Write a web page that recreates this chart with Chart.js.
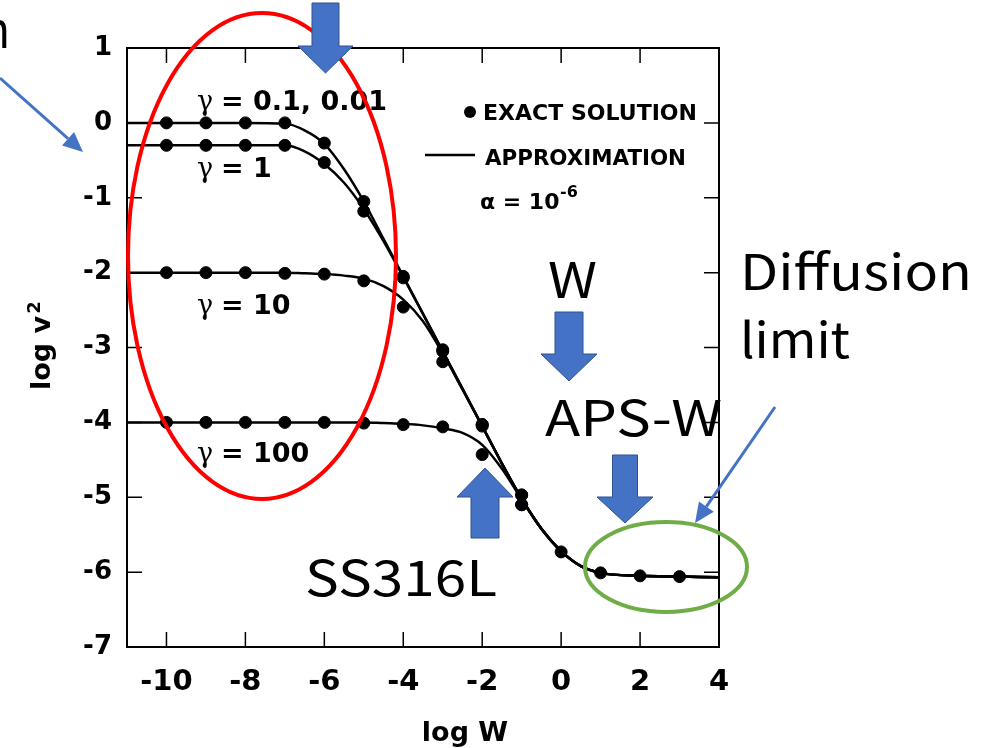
<!DOCTYPE html>
<html>
<head>
<meta charset="utf-8">
<script src="https://cdn.jsdelivr.net/npm/chart.js"></script>
<style>
  html, body { margin: 0; padding: 0; background: #fff; }
  #wrap { width: 990px; height: 748px; position: relative; }
</style>
</head>
<body>
<div id="wrap"><canvas id="chart"></canvas></div>
<script>
// exact solution dots (log W, log v2)
const exactX = [-10, -9, -8, -7, -6, -5, -4, -3, -2, -1, 0, 1, 2, 3];
const exactG01 = [0, 0, 0, 0, -0.27, -1.05, -2.05, -3.03, -4.03, -4.97, -5.73, -6.01, -6.05, -6.06];
const exactG1 = [-0.3, -0.3, -0.3, -0.3, -0.53, -1.18, -2.07, -3.05, -4.03, -4.97];
const exactG10 = [-2, -2, -2, -2.01, -2.02, -2.11, -2.46, -3.19, -4.05, -5.1];
const exactG100 = [-4, -4, -4, -4, -4, -4.01, -4.03, -4.06, -4.43, -5.1];

// approximation curves
const lineX = [-11, -10, -9, -8, -7, -6.5, -6, -5.5, -5, -4.5, -4, -3.5, -3, -2.5, -2, -1.5, -1, -0.5, 0, 0.5, 1, 2, 3, 4];
const approxG01 = [0, 0, 0, 0, -0.01, -0.1, -0.28, -0.62, -1.05, -1.55, -2.05, -2.55, -3.05, -3.55, -4.05, -4.55, -5.02, -5.42, -5.72, -5.92, -6.01, -6.05, -6.06, -6.07];
const approxG1 = [-0.3, -0.3, -0.3, -0.3, -0.3, -0.38, -0.55, -0.8, -1.15, -1.58, -2.06, -2.55, -3.05, -3.55, -4.05, -4.55, -5.02, -5.42, -5.72, -5.92, -6.01, -6.05, -6.06, -6.07];
const approxG10 = [-2, -2, -2, -2, -2, -2.01, -2.02, -2.04, -2.08, -2.18, -2.36, -2.65, -3.08, -3.56, -4.05, -4.55, -5.02, -5.42, -5.72, -5.92, -6.01, -6.05, -6.06, -6.07];
const approxG100 = [-4, -4, -4, -4, -4, -4, -4, -4, -4, -4.01, -4.02, -4.04, -4.08, -4.14, -4.3, -4.62, -5.03, -5.42, -5.72, -5.92, -6.01, -6.05, -6.06, -6.07];

const xTicks = [-10, -8, -6, -4, -2, 0, 2, 4];
const yTicks = [-7, -6, -5, -4, -3, -2, -1, 0, 1];

function pts(xs, ys) {
  return ys.map((v, i) => ({ x: xs[i], y: v }));
}

function lineSet(ys) {
  return {
    data: pts(lineX, ys),
    showLine: true,
    borderColor: '#000',
    borderWidth: 2.5,
    pointRadius: 0,
    cubicInterpolationMode: 'monotone',
  };
}

function dotSet(ys) {
  return {
    data: pts(exactX, ys),
    showLine: false,
    pointRadius: 6,
    pointBackgroundColor: '#000',
    pointBorderColor: '#000',
  };
}

function bold(s) { return 'bold ' + s + 'px "DejaVu Sans"'; }

function blockArrow(ctx, cx, tail, tip, sw, hw, hl) {
  const d = tip > tail ? 1 : -1;
  const hb = tip - d * hl;
  ctx.beginPath();
  ctx.moveTo(cx - sw / 2, tail);
  ctx.lineTo(cx + sw / 2, tail);
  ctx.lineTo(cx + sw / 2, hb);
  ctx.lineTo(cx + hw / 2, hb);
  ctx.lineTo(cx, tip);
  ctx.lineTo(cx - hw / 2, hb);
  ctx.lineTo(cx - sw / 2, hb);
  ctx.closePath();
  ctx.fillStyle = '#4472C4';
  ctx.fill();
  ctx.strokeStyle = '#2F528F';
  ctx.lineWidth = 1;
  ctx.stroke();
}

function thinArrow(ctx, x1, y1, x2, y2) {
  const ang = Math.atan2(y2 - y1, x2 - x1);
  const hl = 20, hw = 9;
  const bx = x2 - hl * Math.cos(ang), by = y2 - hl * Math.sin(ang);
  ctx.strokeStyle = '#4472C4';
  ctx.fillStyle = '#4472C4';
  ctx.lineWidth = 3;
  ctx.beginPath();
  ctx.moveTo(x1, y1);
  ctx.lineTo(bx, by);
  ctx.stroke();
  ctx.beginPath();
  ctx.moveTo(x2, y2);
  ctx.lineTo(bx + hw * Math.sin(ang), by - hw * Math.cos(ang));
  ctx.lineTo(bx - hw * Math.sin(ang), by + hw * Math.cos(ang));
  ctx.closePath();
  ctx.fill();
}

function ellipse(ctx, cx, cy, rx, ry, color) {
  ctx.beginPath();
  ctx.ellipse(cx, cy, rx, ry, 0, 0, Math.PI * 2);
  ctx.strokeStyle = color;
  ctx.lineWidth = 4;
  ctx.stroke();
}

// slide text, stretched to the width it has in the picture
function fitText(ctx, text, x, y, width) {
  const m = ctx.measureText(text).width;
  ctx.save();
  ctx.translate(x, y);
  ctx.scale(width / m, 1);
  ctx.fillText(text, 0, 0);
  ctx.restore();
}

function gammaLabel(ctx, x, y, rest) {
  ctx.font = '27px "DejaVu Serif"';
  ctx.fillText('γ', x, y);
  ctx.font = bold(27);
  ctx.fillText(rest, x + 24, y);
}

const overlay = {
  id: 'overlay',
  afterDatasetsDraw(chart) {
    const { ctx, chartArea: a, scales: { x, y } } = chart;
    ctx.save();
    ctx.strokeStyle = '#000';
    ctx.lineWidth = 2;
    ctx.strokeRect(a.left, a.top, a.right - a.left, a.bottom - a.top);
    ctx.lineWidth = 1.5;
    ctx.beginPath();
    xTicks.forEach(v => {
      const px = x.getPixelForValue(v);
      ctx.moveTo(px, a.bottom); ctx.lineTo(px, a.bottom - 15);
      ctx.moveTo(px, a.top); ctx.lineTo(px, a.top + 15);
    });
    yTicks.forEach(v => {
      const py = y.getPixelForValue(v);
      ctx.moveTo(a.left, py); ctx.lineTo(a.left + 15, py);
      ctx.moveTo(a.right, py); ctx.lineTo(a.right - 15, py);
    });
    ctx.stroke();

    // curve labels
    ctx.fillStyle = '#000';
    ctx.textAlign = 'left';
    ctx.textBaseline = 'alphabetic';
    gammaLabel(ctx, 197, 110, '= 0.1, 0.01');
    gammaLabel(ctx, 197, 177, '= 1');
    gammaLabel(ctx, 197, 314, '= 10');
    gammaLabel(ctx, 197, 462, '= 100');

    // legend
    ctx.beginPath();
    ctx.arc(470, 112, 6, 0, Math.PI * 2);
    ctx.fill();
    ctx.font = bold(22);
    fitText(ctx, 'EXACT SOLUTION', 483, 120, 214);
    ctx.lineWidth = 2.5;
    ctx.beginPath();
    ctx.moveTo(425, 155); ctx.lineTo(475, 155);
    ctx.stroke();
    fitText(ctx, 'APPROXIMATION', 485, 165, 201);
    ctx.fillText('α = 10', 480, 209);
    ctx.font = bold(16);
    ctx.fillText('-6', 560, 197);

    // axis titles
    ctx.font = bold(27);
    ctx.textAlign = 'center';
    ctx.fillText('log W', 465, 741);
    ctx.save();
    ctx.translate(50, 340);
    ctx.rotate(-Math.PI / 2);
    ctx.textAlign = 'left';
    ctx.font = bold(27);
    const w = ctx.measureText('log v').width;
    ctx.fillText('log v', -50, 0);
    ctx.font = bold(18);
    ctx.fillText('2', -50 + w + 2, -10);
    ctx.restore();
    ctx.restore();
  },
  afterDraw(chart) {
    const ctx = chart.ctx;
    ctx.save();
    ellipse(ctx, 262, 256, 134, 243, '#FF0000');
    ellipse(ctx, 666, 567, 81, 45, '#70AD47');

    blockArrow(ctx, 325.5, 3, 73, 27, 55, 27);
    blockArrow(ctx, 569, 312, 381, 28, 56, 27);
    blockArrow(ctx, 625, 455, 523, 25, 56, 26);
    blockArrow(ctx, 485, 538, 468, 28, 56, 29);

    thinArrow(ctx, 0, 78, 83, 152);
    thinArrow(ctx, 775, 407, 695, 523);

    ctx.fillStyle = '#000';
    ctx.textBaseline = 'alphabetic';
    ctx.textAlign = 'left';
    ctx.font = '49px "Noto Sans CJK JP", "Noto Sans"';
    fitText(ctx, 'n', -17, 48, 27);
    fitText(ctx, 'W', 548, 298, 49);
    fitText(ctx, 'Diffusion', 740, 290, 232);
    fitText(ctx, 'limit', 740, 358, 110);
    fitText(ctx, 'APS-W', 545, 436, 177);
    fitText(ctx, 'SS316L', 305, 596, 192);
    ctx.restore();
  }
};

new Chart(document.getElementById('chart'), {
  type: 'scatter',
  data: {
    datasets: [
      lineSet(approxG01), lineSet(approxG1), lineSet(approxG10), lineSet(approxG100),
      dotSet(exactG01), dotSet(exactG1), dotSet(exactG10), dotSet(exactG100),
    ],
  },
  options: {
    responsive: true,
    maintainAspectRatio: false,
    animation: false,
    devicePixelRatio: 1,
    layout: { padding: { left: 0, top: 48, right: 271, bottom: 0 } },
    plugins: { legend: { display: false }, tooltip: { enabled: false } },
    scales: {
      x: {
        type: 'linear',
        min: -11,
        max: 4,
        grid: { display: false, drawTicks: false },
        border: { display: false },
        afterBuildTicks: scale => { scale.ticks = xTicks.map(v => ({ value: v })); },
        afterFit: scale => { scale.height = 101; },
        ticks: {
          color: '#000',
          padding: 18,
          maxRotation: 0,
          autoSkip: false,
          font: { family: 'DejaVu Sans', weight: 'bold', size: 29 },
        },
      },
      y: {
        type: 'linear',
        min: -7,
        max: 1,
        grid: { display: false, drawTicks: false },
        border: { display: false },
        afterBuildTicks: scale => { scale.ticks = yTicks.map(v => ({ value: v })); },
        afterFit: scale => { scale.width = 127; },
        ticks: {
          color: '#000',
          padding: 15,
          autoSkip: false,
          font: { family: 'DejaVu Sans', weight: 'bold', size: 26 },
        },
      },
    },
  },
  plugins: [overlay],
});
</script>
</body>
</html>
